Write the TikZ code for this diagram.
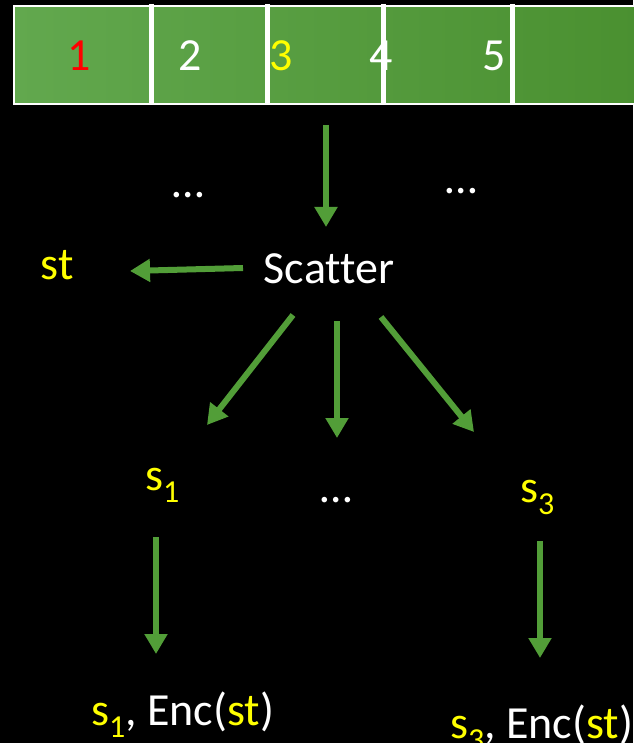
\documentclass[tikz,border=0pt]{standalone}
\usepackage{fontspec}
\setmainfont{Carlito}[Ligatures=CommonOff]
\usetikzlibrary{arrows.meta}
\definecolor{arrgreen}{HTML}{529E38}
\definecolor{barlight}{HTML}{62A84E}
\definecolor{bardark}{HTML}{4A9030}
\definecolor{yel}{HTML}{FFFF00}
\definecolor{rd}{HTML}{FF0000}
\newcommand{\mysb}[1]{\raisebox{-0.28em}{\fontsize{32}{32}\selectfont #1}}
\begin{document}
\begin{tikzpicture}[x=1pt,y=-1pt,
  txt/.style={inner sep=0pt, text=white, font=\fontsize{46}{46}\selectfont},
  arr/.style={draw=arrgreen, line width=6pt, -{Triangle[width=22pt,length=20pt]}},
  sep/.style={draw=white, line width=5pt}]
\fill[black] (0,0) rectangle (633,743);
\useasboundingbox (0,0) rectangle (633,743);
% bar
\shade[left color=barlight, right color=bardark, draw=white, line width=1.5pt] (14,6) rectangle (640,104);
\foreach \xx in {151,267,512}{
  \draw[sep] (\xx,4) -- (\xx,103);
}
\node[txt, anchor=base, text=rd] (n1) at (79,71) {1};
\node[txt, anchor=base] (n2) at (190,71) {2};
\node[txt, anchor=base, text=yel] (n3) at (281,71) {3};
\node[txt, anchor=base] (n4) at (381,71) {4};
\node[txt, anchor=base] (n5) at (494,71) {5};
\draw[sep] (383,4) -- (383,103);
% dots
\node[txt, anchor=base] (d1) at (188,198) {…};
\node[txt, anchor=base] (d2) at (461,194) {…};
\node[txt, anchor=base] (d3) at (336,502) {…};
% main
\node[txt, anchor=base] (scatter) at (329,283) {Scatter};
\node[txt, anchor=base, text=yel] (st) at (57,279) {st};
\node[txt, anchor=base west, text=yel] (sa) at (145,490) {s\mysb{1}};
\node[txt, anchor=base west, text=yel] (sb) at (520,502) {s\mysb{3}};
\node[txt, anchor=base west] (ea) at (91,725) {\textcolor{yel}{s\mysb{1}}, Enc(\textcolor{yel}{st})};
\node[txt, anchor=base west] (eb) at (450,738) {\textcolor{yel}{s\mysb{3}}, Enc(\textcolor{yel}{st})};
% arrow ends
\coordinate (t0) at (326,125); \coordinate (h0) at (326,227);
\coordinate (t1) at (243,268); \coordinate (h1) at (130,271);
\coordinate (t2) at (293,315); \coordinate (h2) at (207,425);
\coordinate (t3) at (337,321); \coordinate (h3) at (337,438);
\coordinate (t4) at (381,317); \coordinate (h4) at (474,432);
\coordinate (t5) at (156,537); \coordinate (h5) at (156,654);
\coordinate (t6) at (540,541); \coordinate (h6) at (540,658);
\draw[arr] (t0) -- (h0);
\draw[arr] (t1) -- (h1);
\draw[arr] (t2) -- (h2);
\draw[arr] (t3) -- (h3);
\draw[arr] (t4) -- (h4);
\draw[arr] (t5) -- (h5);
\draw[arr] (t6) -- (h6);
\end{tikzpicture}
\end{document}
